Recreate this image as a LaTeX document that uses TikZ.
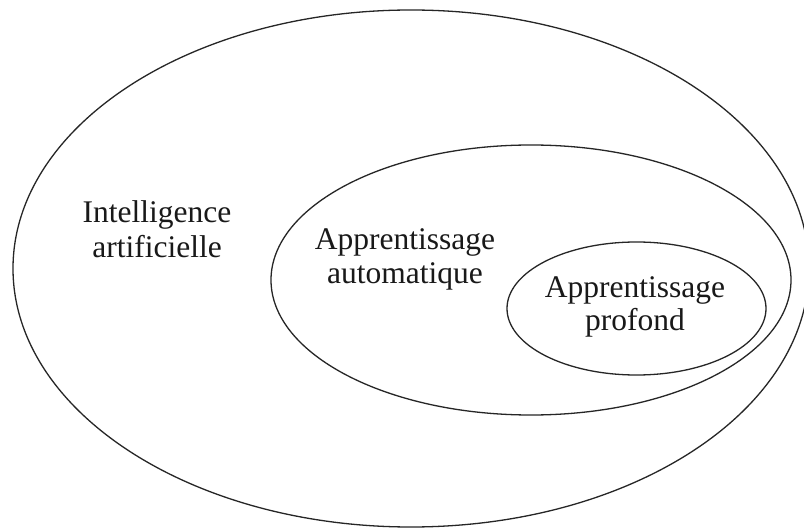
\documentclass[tikz,border=0pt]{standalone}
\usepackage{fontspec}
\setmainfont{Liberation Serif}
\begin{document}
\begin{tikzpicture}[x=1pt,y=-1pt,
  ring/.style={draw=black!85,line width=1.3pt},
  lbl/.style={anchor=base,inner sep=0pt,font=\fontsize{31.5}{35}\selectfont,text=black!90}]
\useasboundingbox (0,0) rectangle (804,529);
\clip (0,0) rectangle (804,529);
\fill[white] (0,0) rectangle (804,529);
\draw[ring] (411,268.5) ellipse [x radius=398, y radius=258.5];
\draw[ring] (531,280) ellipse [x radius=260, y radius=135];
\draw[ring] (636.5,308.5) ellipse [x radius=129.5, y radius=66.5];
\node[lbl] (ai1) at (157,223) {Intelligence};
\node[lbl] (ai2) at (157,258) {artificielle};
\node[lbl] (ml1) at (405,250) {Apprentissage};
\node[lbl] (ml2) at (405,284) {automatique};
\node[lbl] (dl1) at (635,298) {Apprentissage};
\node[lbl] (dl2) at (635,331) {profond};
\end{tikzpicture}
\end{document}
